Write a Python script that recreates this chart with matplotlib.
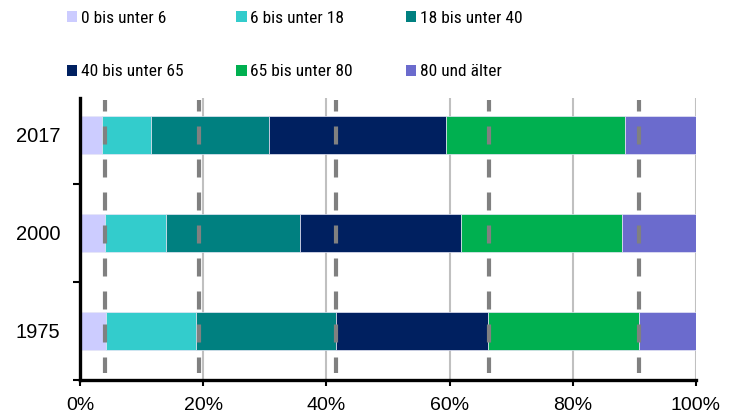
import matplotlib
matplotlib.use('Agg')
import numpy as np
from matplotlib import pyplot as plt
from matplotlib.patches import Patch

# Altersstruktur in Prozent, je Jahr (unten nach oben)
years = ['1975', '2000', '2017']
groups = ['0 bis unter 6', '6 bis unter 18', '18 bis unter 40',
          '40 bis unter 65', '65 bis unter 80', '80 und älter']
age_0_6 = [4.3, 4.0, 3.6]
age_6_18 = [14.5, 9.9, 8.0]
age_18_40 = [22.8, 21.8, 19.1]
age_40_65 = [24.6, 26.2, 28.7]
age_65_80 = [24.6, 26.1, 29.0]
age_80 = [9.2, 12.0, 11.6]
# Referenzlinien (Grenzen 1975)
ref_lines = [4.1, 19.3, 41.5, 66.4, 90.7]
xticks = [0, 20, 40, 60, 80, 100]

colors = ['#CCCCFF', '#33CCCC', '#008080', '#002060', '#00B050', '#6B6BCD']
series = [age_0_6, age_6_18, age_18_40, age_40_65, age_65_80, age_80]

plt.rcParams['font.family'] = ['Liberation Sans', 'DejaVu Sans']

fig = plt.figure(figsize=(7.42, 4.16), dpi=100)
ax = fig.add_axes([80 / 742, 36 / 416, 616 / 742, 282 / 416])

y = np.arange(len(years))
left = np.zeros(len(years))
for vals, col in zip(series, colors):
    ax.barh(y, vals, left=left, height=0.39, color=col, edgecolor='#e6e6f5',
            linewidth=0.5, zorder=2)
    left += np.array(vals)

lw = 3.0
for xv in ref_lines:
    ax.plot([xv, xv], [2.357, -0.429], color='#808080', lw=lw, zorder=3,
            linestyle=(4.68 / lw, (12.96 / lw, 10.8 / lw)), solid_capstyle='butt',
            dash_capstyle='butt', clip_on=False)

ax.set_xlim(0, 100)
ax.set_ylim(-0.5, 2.5 - 12 / 98)
ax.set_xticks(xticks, labels=[f'{v}%' for v in xticks], fontsize=14)
ax.set_yticks(y, labels=years, fontsize=14.5)
ax.set_yticks([-0.5, 0.5, 1.5], minor=True)
ax.tick_params(axis='y', which='major', length=0, pad=14)
ax.tick_params(axis='y', which='minor', length=5, width=1.5, direction='out')
ax.tick_params(axis='x', length=4, width=1.5, pad=8)
ax.xaxis.grid(True, color='#c0c0c0', lw=1.5, zorder=0)
ax.set_axisbelow(True)
for s in ['top', 'right']:
    ax.spines[s].set_visible(False)
for s in ['left', 'bottom']:
    ax.spines[s].set_linewidth(2.4)
    ax.spines[s].set_zorder(4)

handles = [Patch(facecolor=c, edgecolor='none') for c in colors]
# Reihenfolge zeilenweise: matplotlib füllt spaltenweise
order = [0, 3, 1, 4, 2, 5]
fig.legend([handles[i] for i in order], [groups[i] for i in order],
           ncol=3, loc='upper left', bbox_to_anchor=(67 / 742, 1 - 11 / 416),
           frameon=False, borderpad=0, borderaxespad=0,
           handlelength=0.6, handleheight=0.6, handletextpad=0.2,
           labelspacing=2.2, columnspacing=3.05,
           prop={'family': ['Roboto Condensed', 'Liberation Sans'], 'size': 12.5})

fig.savefig('out.png', dpi=100)
